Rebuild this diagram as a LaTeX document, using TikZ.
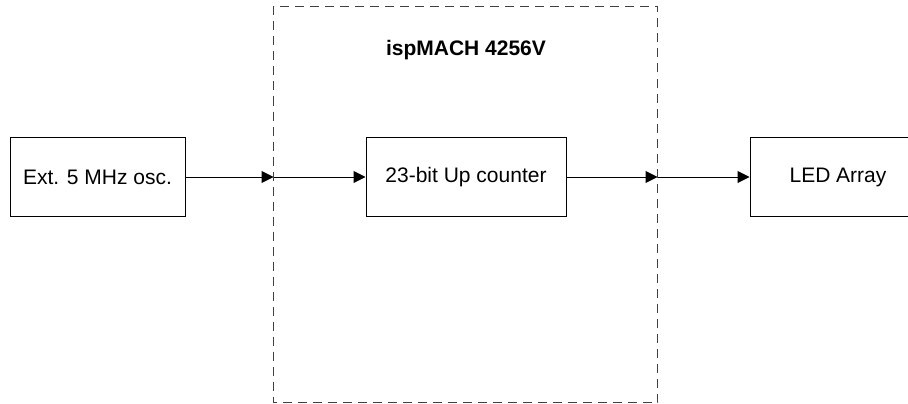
\documentclass[tikz,border=0pt]{standalone}
\usepackage{fontspec}
\setmainfont{Liberation Sans}
\usetikzlibrary{arrows.meta}
\begin{document}
\begin{tikzpicture}[x=1pt,y=-1pt,
  blockbox/.style={draw=black,line width=1pt,fill=white,inner sep=0pt},
  conn/.style={draw=black,line width=1pt,-{Triangle[length=12pt,width=12pt]}},
  chipbox/.style={draw=black!75,line width=1.1pt,dash pattern=on 9pt off 6pt},
  lbl/.style={font=\fontsize{21}{25}\selectfont}]
\useasboundingbox (0,0) rectangle (908,404);
\clip (0,0) rectangle (908,404);
\node[fill=white,minimum width=908pt,minimum height=404pt,inner sep=0pt] (bg) at (454,202) {};
\draw[chipbox] (273.5,6.5) rectangle (657.5,402.5);
\coordinate (inL) at (273.5,177);
\coordinate (inR) at (657.5,177);
\node[lbl,font=\fontsize{21}{25}\selectfont\bfseries] (title) at (466,50) {ispMACH 4256V};
\node[blockbox,lbl,minimum width=175pt,minimum height=79pt] (osc) at (97.5,177) {Ext. 5 MHz osc.};
\node[blockbox,lbl,minimum width=200pt,minimum height=79pt] (cnt) at (466,177) {23-bit Up counter};
\node[blockbox,lbl,minimum width=176pt,minimum height=79pt] (led) at (838,177) {LED Array};
\draw[conn] (osc.east) -- (inL);
\draw[conn] (inL) -- (cnt.west);
\draw[conn] (cnt.east) -- (inR);
\draw[conn] (inR) -- (led.west);
\end{tikzpicture}
\end{document}
